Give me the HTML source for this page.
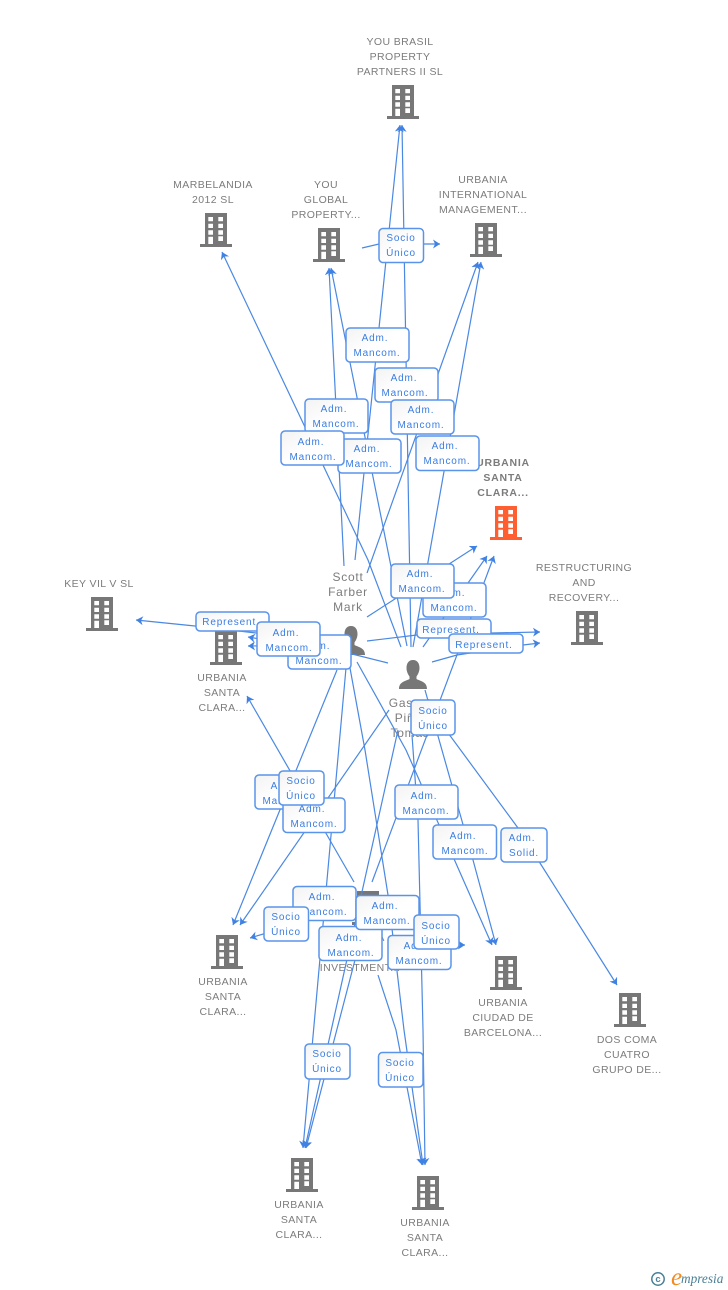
<!DOCTYPE html>
<html><head><meta charset="utf-8"><style>
html,body{margin:0;padding:0;background:#fff;width:728px;height:1290px;overflow:hidden}
svg{display:block}
.l{fill:none;stroke:#4a88e2;stroke-width:1.2;marker-end:none}
.a{marker-end:url(#ah)}
.n{font:10.5px "Liberation Sans",sans-serif;fill:#7c7c7c;letter-spacing:.4px;text-anchor:middle}
.b{font-weight:bold;letter-spacing:.75px}
.p{font-size:12px;letter-spacing:.75px}
.r{fill:url(#g);stroke:#5a94ea;stroke-width:1.5}
.t{font:10px "Liberation Sans",sans-serif;fill:#3a7de2;letter-spacing:.85px;text-anchor:middle}
</style></head><body>
<svg width="728" height="1290" viewBox="0 0 728 1290" xmlns="http://www.w3.org/2000/svg">
<defs>
<linearGradient id="g" x1="0" y1="0" x2="1" y2="1"><stop offset="0" stop-color="#f3f3f3"/><stop offset=".5" stop-color="#fff"/><stop offset="1" stop-color="#fff"/></linearGradient>
<marker id="ah" markerUnits="userSpaceOnUse" markerWidth="9" markerHeight="10" refX="7" refY="4.500" orient="auto"><path d="M7,4.500 L0,0 L2,4.500 L0,9 Z" fill="#3f82e4"/></marker>
<symbol id="bd" viewBox="0 0 32 34" width="32" height="34"><path fill-rule="evenodd" d="M5,0H27V31H32V34H0V31H5ZM8.300,4V8.300H13V4ZM18.300,4V8.300H23V4ZM8.300,10.700V15H13V10.700ZM18.300,10.700V15H23V10.700ZM8.300,17.300V21.700H13V17.300ZM18.300,17.300V21.700H23V17.300ZM8.300,23.700V31H13V23.700ZM18.300,23.300V28H23V23.300Z"/></symbol>
<symbol id="pr" viewBox="0 0 30 29" width="30" height="29"><path d="M15,0C19.500,0 21.500,3.500 21.500,8C21.500,12 19.500,15 18.500,16.500V19C22,21 29,21.500 29,29H1C1,21.500 8,21 11.500,19V16.500C10.500,15 8.500,12 8.500,8C8.500,3.500 10.500,0 15,0Z"/></symbol>
</defs>

<!-- nodes -->
<g fill="#777">
<use href="#bd" x="387" y="85"/><use href="#bd" x="200" y="213"/><use href="#bd" x="313" y="228"/><use href="#bd" x="470" y="223"/>
<use href="#bd" x="571" y="611"/><use href="#bd" x="86" y="597"/><use href="#bd" x="210" y="631"/><use href="#bd" x="211" y="935"/>
<use href="#bd" x="490" y="956"/><use href="#bd" x="614" y="993"/><use href="#bd" x="286" y="1158"/><use href="#bd" x="412" y="1176"/>
<use href="#bd" x="352" y="891"/>
<use href="#pr" x="336" y="626"/><use href="#pr" x="398" y="660"/>
</g>
<use href="#bd" x="490" y="506" fill="#ff5f30"/>

<!-- labels -->
<g class="n">
<text x="400" y="45">YOU BRASIL</text><text x="400" y="60">PROPERTY</text><text x="400" y="75">PARTNERS II SL</text>
<text x="213" y="188">MARBELANDIA</text><text x="213" y="203">2012 SL</text>
<text x="326" y="188">YOU</text><text x="326" y="203">GLOBAL</text><text x="326" y="218">PROPERTY...</text>
<text x="483" y="183">URBANIA</text><text x="483" y="198">INTERNATIONAL</text><text x="483" y="213">MANAGEMENT...</text>
<g class="b"><text x="503" y="466">URBANIA</text><text x="503" y="481">SANTA</text><text x="503" y="496">CLARA...</text></g>
<text x="584" y="571">RESTRUCTURING</text><text x="584" y="586">AND</text><text x="584" y="601">RECOVERY...</text>
<text x="99" y="587">KEY VIL V SL</text>
<text x="222" y="681">URBANIA</text><text x="222" y="696">SANTA</text><text x="222" y="711">CLARA...</text>
<text x="223" y="985">URBANIA</text><text x="223" y="1000">SANTA</text><text x="223" y="1015">CLARA...</text>
<text x="503" y="1006">URBANIA</text><text x="503" y="1021">CIUDAD DE</text><text x="503" y="1036">BARCELONA...</text>
<text x="627" y="1043">DOS COMA</text><text x="627" y="1058">CUATRO</text><text x="627" y="1073">GRUPO DE...</text>
<text x="299" y="1208">URBANIA</text><text x="299" y="1223">SANTA</text><text x="299" y="1238">CLARA...</text>
<text x="425" y="1226">URBANIA</text><text x="425" y="1241">SANTA</text><text x="425" y="1256">CLARA...</text>
<text x="360" y="941">URBANIA</text><text x="360" y="956">SANTA</text><text x="360" y="971">INVESTMENT...</text>
<text class="p" x="348" y="581">Scott</text><text class="p" x="348" y="596">Farber</text><text class="p" x="348" y="611">Mark</text>
<text class="p" x="410" y="707">Gasset</text><text class="p" x="410" y="722">Piñol</text><text class="p" x="410" y="737">Tomás</text>
</g>

<!-- connectors -->
<g>
<path class="l a" d="M355,560L400,125"/>
<path class="l a" d="M344,566L329,268"/>
<path class="l a" d="M411,647L402,125"/>
<path class="l a" d="M407,646L331,268"/>
<path class="l a" d="M401,647L368,560L222,252"/>
<path class="l a" d="M367,573L478,262"/>
<path class="l a" d="M413,647L481,262"/>
<path class="l a" d="M362,248L379,244L424,244L440,244"/>
<path class="l a" d="M367,617L477,546"/>
<path class="l a" d="M423,647L487,556"/>
<path class="l a" d="M372,882L494,556"/>
<path class="l a" d="M367,641L417,635L492,633L540,632"/>
<path class="l a" d="M432,662L457,655L523,645L540,643"/>
<path class="l a" d="M335,642L195,626L136,620"/>
<path class="l a" d="M388,663L352,654L248,637"/>
<path class="l a" d="M337,645L248,646"/>
<path class="l a" d="M354,882L247,696"/>
<path class="l a" d="M337,670L233,925"/>
<path class="l a" d="M389,710L240,925"/>
<path class="l a" d="M270,932L250,938"/>
<path class="l" d="M307,914L320,912"/>
<path class="l a" d="M346,668L303,1148"/>
<path class="l a" d="M398,730L305,1148"/>
<path class="l a" d="M355,960L306,1148"/>
<path class="l a" d="M378,975L396,1030L422,1165"/>
<path class="l a" d="M350,668L365,750L388,895L404,1030L423,1165"/>
<path class="l a" d="M412,735L418,820L423,1030L425,1165"/>
<path class="l a" d="M357,662L406,750L492,945"/>
<path class="l a" d="M425,690L473,860L496,945"/>
<path class="l a" d="M440,722L518,828L540,863L617,985"/>
<path class="l a" d="M400,919L450,945L465,945"/>
</g>

<!-- boxes -->
<g>
<rect class="r" x="379" y="228.500" width="44.500" height="34" rx="4"/><text class="t" x="401" y="241">Socio</text><text class="t" x="401" y="256">Único</text>
<rect class="r" x="346" y="328" width="63" height="34" rx="4"/><text class="t" x="375" y="341">Adm.</text><text class="t" x="377" y="356">Mancom.</text>
<rect class="r" x="375" y="368" width="63" height="34" rx="4"/><text class="t" x="404" y="381">Adm.</text><text class="t" x="405" y="396">Mancom.</text>
<rect class="r" x="391" y="400" width="63" height="34" rx="4"/><text class="t" x="421" y="413">Adm.</text><text class="t" x="421" y="428">Mancom.</text>
<rect class="r" x="305" y="399" width="63" height="34" rx="4"/><text class="t" x="334" y="412">Adm.</text><text class="t" x="336" y="427">Mancom.</text>
<rect class="r" x="338" y="439" width="63" height="34" rx="4"/><text class="t" x="367" y="452">Adm.</text><text class="t" x="369" y="467">Mancom.</text>
<rect class="r" x="281" y="431" width="63" height="34" rx="4"/><text class="t" x="311" y="445">Adm.</text><text class="t" x="313" y="460">Mancom.</text>
<rect class="r" x="416" y="436" width="63" height="34.500" rx="4"/><text class="t" x="445" y="449">Adm.</text><text class="t" x="447" y="464">Mancom.</text>
<rect class="r" x="423" y="583" width="63" height="34" rx="4"/><text class="t" x="452" y="596">Adm.</text><text class="t" x="454" y="611">Mancom.</text>
<rect class="r" x="391" y="564" width="63" height="34" rx="4"/><text class="t" x="420" y="577">Adm.</text><text class="t" x="422" y="592">Mancom.</text>
<rect class="r" x="417" y="619" width="74" height="19" rx="4"/><text class="t" x="451" y="633">Represent.</text>
<rect class="r" x="449" y="634" width="74" height="19" rx="4"/><text class="t" x="484" y="648">Represent.</text>
<rect class="r" x="196" y="612" width="73" height="19" rx="4"/><text class="t" x="231" y="625">Represent.</text>
<rect class="r" x="288" y="635" width="63" height="34" rx="4"/><text class="t" x="317" y="649">Adm.</text><text class="t" x="319" y="664">Mancom.</text>
<rect class="r" x="257" y="622" width="63" height="34" rx="4"/><text class="t" x="286" y="636">Adm.</text><text class="t" x="289" y="651">Mancom.</text>
<rect class="r" x="411" y="700" width="44" height="35" rx="4"/><text class="t" x="433" y="714">Socio</text><text class="t" x="433" y="729">Único</text>
<rect class="r" x="255" y="775" width="63" height="34" rx="4"/><text class="t" x="284" y="789">Adm.</text><text class="t" x="286" y="804">Mancom.</text>
<rect class="r" x="283" y="798" width="62" height="34.500" rx="4"/><text class="t" x="312" y="812">Adm.</text><text class="t" x="314" y="827">Mancom.</text>
<rect class="r" x="279" y="771" width="45" height="34" rx="4"/><text class="t" x="301" y="784">Socio</text><text class="t" x="301" y="799">Único</text>
<rect class="r" x="395" y="785" width="63" height="34" rx="4"/><text class="t" x="424" y="799">Adm.</text><text class="t" x="426" y="814">Mancom.</text>
<rect class="r" x="433" y="825" width="63.500" height="34" rx="4"/><text class="t" x="463" y="839">Adm.</text><text class="t" x="465" y="854">Mancom.</text>
<rect class="r" x="501" y="828" width="46" height="34" rx="4"/><text class="t" x="522" y="841">Adm.</text><text class="t" x="524" y="856">Solid.</text>
<rect class="r" x="293" y="886.500" width="63" height="34" rx="4"/><text class="t" x="322" y="900">Adm.</text><text class="t" x="324" y="915">Mancom.</text>
<rect class="r" x="264" y="907" width="44.500" height="34" rx="4"/><text class="t" x="286" y="920">Socio</text><text class="t" x="286" y="935">Único</text>
<rect class="r" x="319" y="926.500" width="63" height="34" rx="4"/><text class="t" x="349" y="941">Adm.</text><text class="t" x="351" y="956">Mancom.</text>
<rect class="r" x="388" y="935.500" width="63" height="34" rx="4"/><text class="t" x="417" y="949">Adm.</text><text class="t" x="419" y="964">Mancom.</text>
<rect class="r" x="356" y="895.500" width="63" height="34" rx="4"/><text class="t" x="385" y="909">Adm.</text><text class="t" x="387" y="924">Mancom.</text>
<rect class="r" x="414" y="915" width="45" height="34" rx="4"/><text class="t" x="436" y="929">Socio</text><text class="t" x="436" y="944">Único</text>
<rect class="r" x="305" y="1044" width="45" height="35" rx="4"/><text class="t" x="327" y="1057">Socio</text><text class="t" x="327" y="1072">Único</text>
<rect class="r" x="378.500" y="1052.500" width="44.500" height="34.500" rx="4"/><text class="t" x="400" y="1066">Socio</text><text class="t" x="400" y="1081">Único</text>
</g>

<!-- logo -->
<circle cx="658" cy="1279" r="6.200" fill="none" stroke="#4a7f96" stroke-width="1.500"/>
<text x="658" y="1282" font-family="Liberation Sans,sans-serif" font-size="9.500" font-weight="bold" fill="#4a7f96" text-anchor="middle">c</text>
<text x="671" y="1285" font-family="Liberation Serif,serif" font-style="italic" font-size="25" fill="#f58a1f">e</text>
<text x="681" y="1283" font-family="Liberation Serif,serif" font-style="italic" font-size="13.300" fill="#4a7f96">mpresia</text>
</svg>
</body></html>
